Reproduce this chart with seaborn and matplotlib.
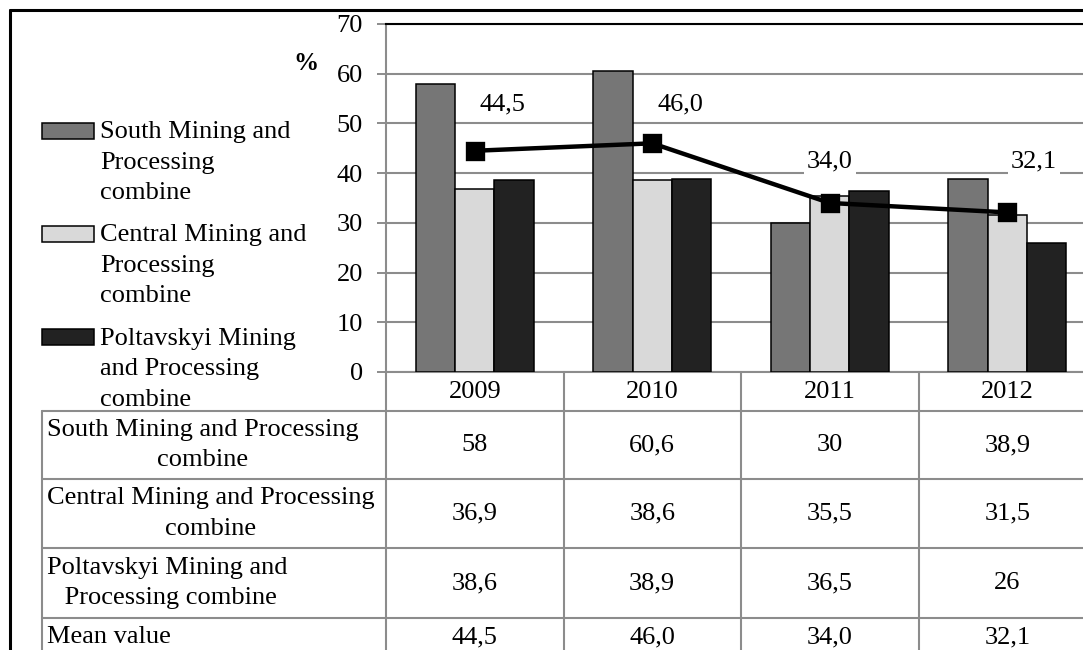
import numpy as np
import pandas as pd
import seaborn as sns
import matplotlib.pyplot as plt
from matplotlib.lines import Line2D
from matplotlib.patches import Rectangle
from matplotlib.legend_handler import HandlerPatch

# ---------------- data ----------------
years = ["2009", "2010", "2011", "2012"]
south = [58.0, 60.6, 30.0, 38.9]
central = [36.9, 38.6, 35.5, 31.5]
poltava = [38.6, 38.9, 36.5, 26.0]
mean_value = [44.5, 46.0, 34.0, 32.1]
series_names = ["South Mining and Processing combine",
                "Central Mining and Processing combine",
                "Poltavskyi Mining and Processing combine"]
legend_labels = ["South Mining and\nProcessing\ncombine",
                 "Central Mining and\nProcessing\ncombine",
                 "Poltavskyi Mining\nand Processing\ncombine"]
table_row_labels = ["South Mining and Processing\ncombine",
                    "Central Mining and Processing\ncombine",
                    "Poltavskyi Mining and\n Processing combine",
                    "Mean value"]
y_ticks = [0, 10, 20, 30, 40, 50, 60, 70]

# ---------------- style ----------------
colors = ["#767676", "#d9d9d9", "#222222"]
grid_c = "#8c8c8c"
FS = 19
LS = 1.5
sns.set_theme(style="white")
plt.rcParams["font.family"] = ["Liberation Serif", "DejaVu Serif"]
plt.rcParams["text.color"] = "black"

W, H = 1083, 650
fig = plt.figure(figsize=(W / 100, H / 100), dpi=100)
fig.patch.set_facecolor("white")


def fx(px):
    return px / W


def fy(py):
    return 1 - py / H


ax = fig.add_axes([fx(386), fy(372), fx(1096) - fx(386), fy(24) - fy(372)])

df = pd.DataFrame({
    "year": years * 3,
    "value": south + central + poltava,
    "series": np.repeat(series_names, len(years)),
})
sns.barplot(data=df, x="year", y="value", hue="series", hue_order=series_names,
            palette=colors, saturation=1, width=0.665, gap=0,
            edgecolor="black", linewidth=1.1, ax=ax, legend=False, zorder=3)

sns.pointplot(x=years, y=mean_value, color="black", markers="s", errorbar=None,
              markersize=11.5, linewidth=3.2, ax=ax, zorder=6)

# mean labels (offsets are layout, values from data)
lab_dx = [0.158, 0.158, 0.0, 0.152]
lab_dy = [9.3, 7.8, 8.3, 10.2]
for i, v in enumerate(mean_value):
    ax.text(i + lab_dx[i], v + lab_dy[i], f"{v:.1f}".replace(".", ","),
            ha="center", va="center", fontsize=FS, zorder=7,
            bbox=dict(fc="white", ec="none", pad=2))

ax.set_xlim(-0.5, 3.5)
ax.set_ylim(0, 70)
ax.set_yticks(y_ticks)
ax.set_yticklabels([str(t) for t in y_ticks], fontsize=FS)
ax.set_xticks([])
ax.set_xlabel("")
ax.set_ylabel("")
ax.yaxis.grid(True, color=grid_c, linewidth=1.5, zorder=0)
ax.set_axisbelow(True)
ax.tick_params(axis="y", direction="out", length=6.5, width=1.4, color=grid_c,
               pad=10, left=True, labelcolor="black")
for s in ["left", "bottom"]:
    ax.spines[s].set_color(grid_c)
    ax.spines[s].set_linewidth(1.5)
ax.spines["top"].set_color("black")
ax.spines["top"].set_linewidth(1.5)
ax.spines["right"].set_visible(False)

fig.text(fx(306), fy(63), "%", fontweight="bold", ha="center", va="center",
         fontsize=18)

# ---------------- data table ----------------
fig.canvas.draw()
bounds = [ax.transData.transform((k - 0.5, 0))[0] for k in range(len(years) + 1)]
centers = [(bounds[k] + bounds[k + 1]) / 2 for k in range(len(years))]


def line_px(x0, y0, x1, y1, **kw):
    fig.add_artist(Line2D([fx(x0), fx(x1)], [fy(y0), fy(y1)],
                          transform=fig.transFigure, color=grid_c,
                          linewidth=1.5, **kw))


row_edges = [372, 411, 479, 548, 618, 700]
tbl_left = 42
for b in bounds[:-1]:
    line_px(b, 372, b, 700)
line_px(tbl_left, 411, tbl_left, 700)
for r in row_edges[1:-1]:
    line_px(tbl_left, r, 1100, r)

for k, yr in enumerate(years):
    fig.text(fx(centers[k]), fy((row_edges[0] + row_edges[1]) / 2 + 1), yr,
             ha="center", va="center", fontsize=FS)


def fmt(v, force_dec=False):
    if not force_dec and float(v).is_integer():
        return str(int(v))
    return f"{v:.1f}".replace(".", ",")


rows = [[fmt(v) for v in south], [fmt(v) for v in central],
        [fmt(v) for v in poltava], [fmt(v, True) for v in mean_value]]
row_centers = [(row_edges[r] + row_edges[r + 1]) / 2 for r in range(1, 4)] + [637]
for r, label in enumerate(table_row_labels):
    fig.text(fx(47), fy(row_centers[r]), label, ha="left", va="center",
             multialignment="center", fontsize=FS, linespacing=LS)
    for k in range(len(years)):
        fig.text(fx(centers[k]), fy(row_centers[r]), rows[r][k],
                 ha="center", va="center", fontsize=FS)

# ---------------- legend ----------------
line_pt = 31 * 0.72  # one text line, in points


def top_patch(legend, orig_handle, xdescent, ydescent, width, height, fontsize):
    return Rectangle((-xdescent, -ydescent + line_pt), width, height)


handles = [Rectangle((0, 0), 1, 1, facecolor=c, edgecolor="black", linewidth=1.1)
           for c in colors]
leg = fig.legend(handles, legend_labels, loc="upper left",
                 bbox_to_anchor=(fx(42), fy(121)), frameon=False,
                 borderpad=0, borderaxespad=0, handlelength=1.96,
                 handleheight=0.54, handletextpad=0.23, labelspacing=0.77,
                 fontsize=FS,
                 handler_map={Rectangle: HandlerPatch(patch_func=top_patch)})
for t in leg.get_texts():
    t.set_linespacing(LS)

# ---------------- outer border ----------------
fig.add_artist(Line2D([fx(10), fx(10)], [fy(10), fy(700)], transform=fig.transFigure,
                      color="black", linewidth=2.2))
fig.add_artist(Line2D([fx(10), fx(1100)], [fy(10), fy(10)], transform=fig.transFigure,
                      color="black", linewidth=2.2))

fig.savefig("out.png", dpi=100, facecolor="white")
